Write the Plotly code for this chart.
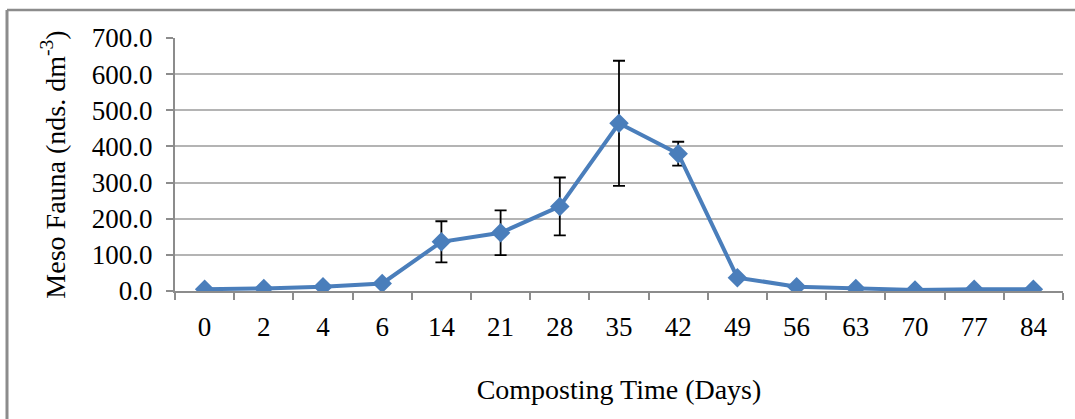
import plotly.graph_objects as go

days = ["0", "2", "4", "6", "14", "21", "28", "35", "42", "49", "56", "63", "70", "77", "84"]
meso_fauna = [5, 7, 12, 21, 136, 161, 234, 464, 380, 37, 12, 7, 3, 5, 5]
std_err = [None, None, None, None, 57, 62, 80, 173, 33, None, None, None, None, None, None]

FONT = "Times New Roman"

fig = go.Figure()
fig.add_trace(go.Scatter(
    x=days, y=meso_fauna, mode="lines+markers",
    line=dict(color="#4a7ebb", width=4),
    marker=dict(symbol="diamond", size=15, color="#4a7ebb"),
    error_y=dict(type="data", array=std_err, visible=True, color="black", thickness=1.8, width=6),
    showlegend=False,
))

W, H = 1075, 419
L, R, T, B = 175, 12, 38, 128
pw, ph = W - L - R, H - T - B

def px(x):
    return (x - L) / pw

def py(y):
    return (H - B - y) / ph

fig.update_layout(
    width=W, height=H,
    margin=dict(l=L, r=R, t=T, b=B),
    paper_bgcolor="white", plot_bgcolor="white",
    font=dict(family=FONT, size=27, color="black"),
    xaxis=dict(
        type="category", tickson="boundaries", ticks="outside", ticklen=7,
        range=[-0.5, len(days) - 0.5],
        tickcolor="#8c8c8c", tickwidth=2,
        showline=True, linecolor="#8c8c8c", linewidth=2,
        showgrid=False, ticklabelstandoff=11,
        tickfont=dict(family=FONT, size=27),
        title=dict(text="Composting Time (Days)", font=dict(family=FONT, size=28), standoff=38),
    ),
    yaxis=dict(
        range=[0, 700], dtick=100, tickformat=".1f",
        ticks="outside", ticklen=7, tickcolor="#8c8c8c", tickwidth=2,
        showline=True, linecolor="#8c8c8c", linewidth=2,
        showgrid=True, gridcolor="#b4b4b4", gridwidth=1.5,
        zeroline=False, ticklabelstandoff=8,
        tickfont=dict(family=FONT, size=27),
        title=dict(text="Meso Fauna (nds. dm<sup>-3</sup>)", font=dict(family=FONT, size=28), standoff=18),
    ),
    shapes=[
        dict(type="line", xref="paper", yref="paper", x0=px(7), x1=px(1075), y0=py(10), y1=py(10),
             line=dict(color="#8c8c8c", width=2.5)),
        dict(type="line", xref="paper", yref="paper", x0=px(7), x1=px(7), y0=py(10), y1=py(419),
             line=dict(color="#8c8c8c", width=3)),
    ],
)

fig.write_html("out.html")
